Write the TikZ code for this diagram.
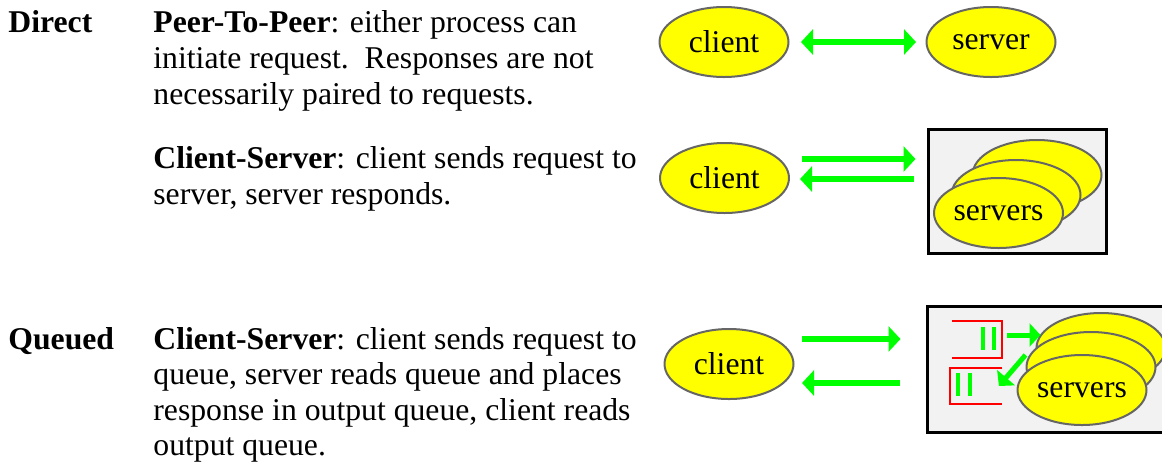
\documentclass[tikz,border=0pt]{standalone}
\usepackage{fontspec}
\setmainfont{Liberation Serif}
\usetikzlibrary{shapes.geometric}
\usetikzlibrary{arrows.meta}
\definecolor{ffffqq}{rgb}{1.,1.,0.}
\definecolor{qqffqq}{rgb}{0.,1.,0.}
\definecolor{ffqqqq}{rgb}{1.,0.,0.}
\definecolor{sqsqsq}{rgb}{0.4,0.4,0.4}
\definecolor{fzfzfz}{rgb}{0.95,0.95,0.95}
\tikzstyle{every node}=[font=\fontsize{15.85}{18}\selectfont]

\begin{document}
\begin{tikzpicture}[line join=miter,x=0.5pt,y=-0.5pt,
    proc/.style={ellipse,draw=sqsqsq,line width=1pt,fill=ffffqq,minimum width=64.5pt,minimum height=35pt,inner sep=0pt},
    flow/.style={-{Triangle[length=6pt,width=12.5pt]},line width=3pt,color=qqffqq},
    smallflow/.style={-{Triangle[length=5.5pt,width=11.5pt]},line width=2.5pt,color=qqffqq},
    txt/.style={anchor=base west,inner sep=0pt},
    frame/.style={draw=black,line width=1.5pt,fill=fzfzfz,inner sep=0pt},
    queue/.style={rectangle,inner sep=0pt},
    qline/.style={draw=ffqqqq,line width=1pt},
    qbar/.style={line width=2.3pt,color=qqffqq}]

            \useasboundingbox (0,0) rectangle (1162,462);
            \clip (0,0) rectangle (1162,462);

            % left column text
            \node[txt] (direct) at (8,32) {\textbf{Direct}};
            \node[txt] (queued) at (8,349) {\textbf{Queued}};
            \node[txt] (p2p) at (153,32) {\parbox[t]{300pt}{\textbf{Peer-To-Peer}: either process can\\initiate request.\ \ Responses are not\\necessarily paired to requests.}};
            \node[txt] (cs) at (153,168) {\parbox[t]{300pt}{\textbf{Client-Server}: client sends request to\\server, server responds.}};
            \node[txt] (qcs) at (153,349) {\parbox[t]{300pt}{\fontsize{15.85}{17.8}\selectfont\textbf{Client-Server}: client sends request to\\queue, server reads queue and places\\response in output queue, client reads\\output queue.}};

            % peer-to-peer
            \node[proc] (c1) at (724,42) {client};
            \node[proc] (s1) at (991,42) {server};
            \draw[flow,{Triangle[length=6pt,width=12.5pt]}-{Triangle[length=6pt,width=12.5pt]},shorten <=5.75pt,shorten >=4.75pt] (c1.east) -- (s1.west);

            % client-server, direct
            \node[proc] (c2) at (724.5,178) {client};
            \node[frame,minimum width=89pt,minimum height=62pt] (box2) at (1017,191) {};
            \node[proc] (sb2) at (1037,175) {};
            \node[proc] (sm2) at (1016,195) {};
            \node[proc] (sf2) at (998.5,213) {servers};
            \draw[flow,shorten <=6pt,shorten >=5.5pt] ([yshift=9.5pt]c2.east) -- ([yshift=16pt]box2.west);
            \draw[flow,shorten <=6.5pt,shorten >=5pt] ([yshift=6pt]box2.west) -- ([yshift=-0.5pt]c2.east);

            % client-server, queued
            \node[proc] (c3) at (729,364) {client};
            \node[frame,minimum width=124pt,minimum height=63pt] (box3) at (1051,369) {};
            \node[queue,minimum width=25pt,minimum height=18.5pt] (q1) at (977,339.5) {};
            \node[queue,minimum width=26pt,minimum height=18pt] (q2) at (976,386) {};
            \draw[qline] (q1.north west) -- (q1.north east) -- (q1.south east) -- (q1.south west);
            \draw[qline] (q2.north east) -- (q2.north west) -- (q2.south west) -- (q2.south east);
            \foreach \dx in {6,17}
                \draw[qbar] ([shift={(\dx,-12.5)}]q1.center) -- ([shift={(\dx,10.5)}]q1.center);
            \foreach \dx in {-18,-6}
                \draw[qbar] ([shift={(\dx,-13)}]q2.center) -- ([shift={(\dx,10)}]q2.center);
            \node[proc] (sb3) at (1101,348) {};
            \node[proc] (sm3) at (1091,367) {};
            \node[proc] (sf3) at (1082,390) {servers};
            \draw[smallflow] ([xshift=2.5pt]q1.east |- 0,335) -- ([xshift=2.5pt,yshift=6.5pt]sb3.west);
            \draw[smallflow] ([yshift=6pt]sm3.west) -- ([xshift=-1.75pt]q2.east);
            \draw[flow,shorten <=3.75pt,shorten >=12.5pt] ([yshift=12.5pt]c3.east) -- ([yshift=15pt]box3.west);
            \draw[flow,shorten <=13pt,shorten >=3.75pt] ([yshift=-7pt]box3.west) -- ([yshift=-9.5pt]c3.east);
            \end{tikzpicture}
\end{document}
